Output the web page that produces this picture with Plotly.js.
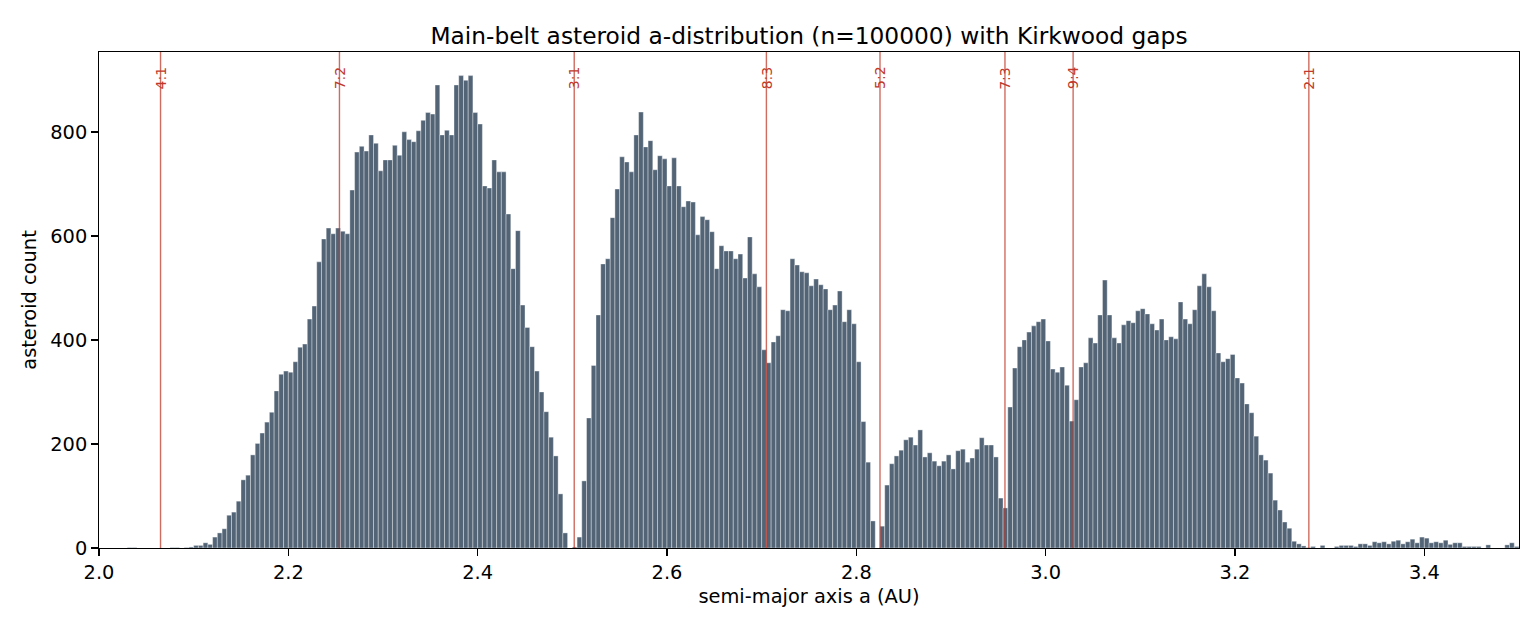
<!DOCTYPE html>
<html>
<head>
<meta charset="utf-8">
<script src="https://cdn.plot.ly/plotly-3.0.1.min.js"></script>
<style>
  html, body { margin: 0; padding: 0; background: #ffffff; }
  #chart { width: 1540px; height: 630px; }
</style>
</head>
<body>
<div id="chart"></div>
<script>
// Histogram of semi-major axis a, 300 bins of 0.005 AU from 2.0 to 3.5 AU
const binStart = 2.0;
const binWidth = 0.005;

// counts per bin, grouped by zone between the main Kirkwood gaps
const countsInner = [   // 2.000 - 2.500 AU
  0, 0, 0, 0, 0, 0, 1, 1, 0, 0,
  0, 0, 0, 0, 0, 1, 1, 0, 1, 2,
  5, 5, 10, 7, 21, 29, 37, 63, 69, 90,
  131, 140, 179, 201, 221, 242, 261, 302, 334, 340,
  338, 358, 386, 392, 440, 465, 550, 594, 615, 604,
  615, 609, 604, 688, 761, 772, 763, 794, 778, 725,
  746, 746, 774, 755, 800, 785, 781, 802, 822, 837,
  834, 890, 794, 803, 794, 890, 908, 899, 908, 837,
  815, 696, 692, 746, 723, 723, 642, 537, 610, 467,
  424, 387, 340, 300, 262, 213, 177, 104, 29, 0
];
const countsMiddle = [  // 2.500 - 2.825 AU
  2, 21, 129, 250, 351, 448, 546, 556, 635, 690,
  752, 742, 723, 794, 838, 771, 783, 727, 754, 748,
  696, 750, 696, 656, 667, 665, 602, 637, 631, 608,
  537, 581, 571, 571, 556, 565, 519, 598, 527, 502,
  381, 356, 396, 408, 458, 456, 556, 544, 531, 529,
  504, 517, 506, 498, 458, 467, 494, 435, 458, 431,
  358, 243, 165, 52, 0
];
const countsPristine = [ // 2.825 - 2.960 AU
  42, 121, 162, 177, 188, 208, 213, 198, 227, 175,
  183, 167, 158, 167, 179, 152, 187, 190, 165, 173,
  190, 212, 198, 198, 175, 96, 77
];
const countsOuter = [   // 2.960 - 3.500 AU
  271, 346, 387, 400, 415, 427, 435, 440,
  398, 344, 338, 348, 313, 244, 285, 348, 356, 404,
  394, 448, 515, 448, 404, 394, 429, 437, 433, 456,
  460, 450, 431, 419, 440, 400, 406, 402, 473, 440,
  431, 458, 504, 527, 502, 456, 375, 358, 364, 372,
  327, 317, 277, 260, 215, 179, 169, 144, 92, 73,
  50, 38, 13, 8, 4, 1, 3, 0, 5, 0,
  0, 3, 5, 5, 5, 3, 8, 8, 5, 12,
  10, 12, 8, 13, 15, 8, 12, 17, 10, 21,
  19, 10, 12, 10, 15, 7, 10, 10, 3, 3,
  3, 3, 0, 6, 0, 0, 0, 6, 10, 3
];

// Mean-motion resonances with Jupiter
const resonanceLabels = ['4:1', '7:2', '3:1', '8:3', '5:2', '7:3', '9:4', '2:1'];
const resonanceA = [2.065, 2.254, 2.502, 2.705, 2.825, 2.957, 3.029, 3.278];

const xTicks = [2.0, 2.2, 2.4, 2.6, 2.8, 3.0, 3.2, 3.4];
const xTickText = ['2.0', '2.2', '2.4', '2.6', '2.8', '3.0', '3.2', '3.4'];
const yTicks = [0, 200, 400, 600, 800];

const counts = countsInner.concat(countsMiddle, countsPristine, countsOuter);
const centers = counts.map((_, i) => binStart + (i + 0.5) * binWidth);
const yMax = Math.max(...counts) * 1.05;

const gapRed = 'rgba(192,57,43,0.75)';
const font = 'DejaVu Sans, Liberation Sans, sans-serif';
const labelSize = 19.4;

const shapes = resonanceA.map(a => ({
  type: 'line', xref: 'x', yref: 'paper',
  x0: a, x1: a, y0: 0, y1: 1,
  line: { color: gapRed, width: 1.4 },
  layer: 'above'
}));

const annotations = resonanceA.map((a, i) => ({
  x: a, xref: 'x', y: 0.975, yref: 'paper',
  text: resonanceLabels[i], textangle: -90,
  showarrow: false, xanchor: 'center', yanchor: 'top',
  font: { family: font, size: 14, color: '#c0392b' }
}));

const trace = {
  type: 'bar',
  x: centers,
  y: counts,
  width: binWidth,
  marker: {
    color: 'rgba(52,73,94,0.85)',
    line: { color: 'rgba(255,255,255,0.75)', width: 0.5 }
  },
  hoverinfo: 'x+y'
};

const layout = {
  width: 1540, height: 630,
  margin: { l: 99, r: 21, t: 52, b: 82 },
  paper_bgcolor: '#ffffff', plot_bgcolor: '#ffffff',
  showlegend: false,
  bargap: 0,
  font: { family: font, size: labelSize, color: '#000000' },
  title: {
    text: 'Main-belt asteroid a-distribution (n=100000) with Kirkwood gaps',
    font: { family: font, size: 23.3, color: '#000000' },
    x: 0.5, xref: 'paper', xanchor: 'center',
    y: 1, yref: 'paper', yanchor: 'bottom', pad: { b: 8 }
  },
  xaxis: {
    range: [2.0, 3.5],
    tickmode: 'array', tickvals: xTicks, ticktext: xTickText,
    ticks: 'outside', ticklen: 6.5, tickwidth: 1.4, tickcolor: '#000',
    showline: true, mirror: true, linecolor: '#000', linewidth: 1.4,
    showgrid: false, zeroline: false,
    tickfont: { family: font, size: labelSize, color: '#000' },
    title: { text: 'semi-major axis a (AU)', font: { family: font, size: labelSize, color: '#000' }, standoff: 6 }
  },
  yaxis: {
    range: [0, yMax],
    tickmode: 'array', tickvals: yTicks,
    ticks: 'outside', ticklen: 6.5, tickwidth: 1.4, tickcolor: '#000',
    showline: true, mirror: true, linecolor: '#000', linewidth: 1.4,
    showgrid: false, zeroline: false,
    tickfont: { family: font, size: labelSize, color: '#000' },
    title: { text: 'asteroid count', font: { family: font, size: labelSize, color: '#000' }, standoff: 8 }
  },
  shapes: shapes,
  annotations: annotations
};

Plotly.newPlot('chart', [trace], layout, { displayModeBar: false, staticPlot: true });
</script>
</body>
</html>
